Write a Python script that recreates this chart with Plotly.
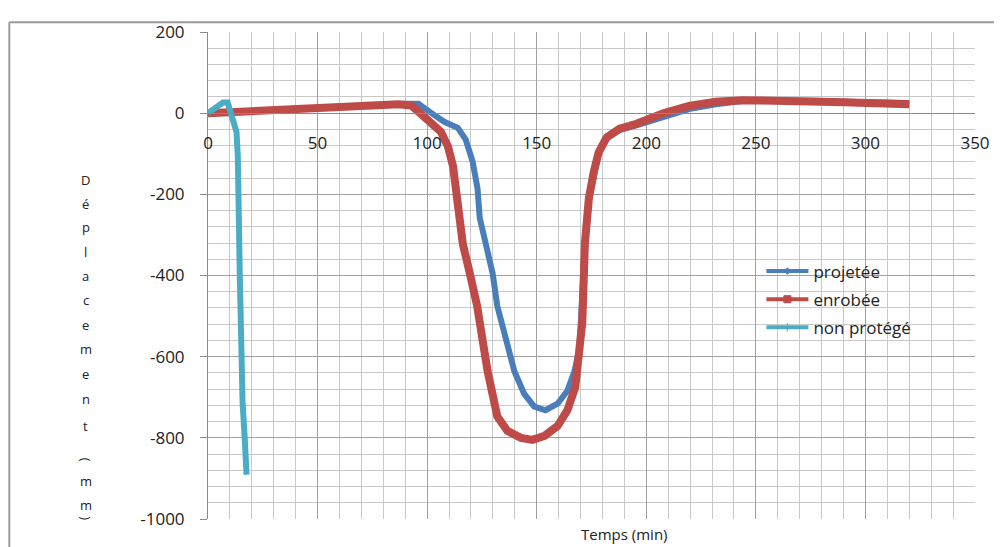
import plotly.graph_objects as go

# values
proj_x = [0, 10, 20, 30, 40, 50, 60, 70, 80, 90, 96, 102, 108, 114, 117.6, 120.8, 123, 124, 126.7, 129.9, 132,
          135.7, 139.8, 144.3, 148.9, 154, 159.5, 164, 167.2, 169.5, 170.6, 172, 173.8, 176, 178.3, 181.9, 187.8,
          195.5, 201.4, 207.7, 219.5, 231.7, 243.9, 255, 265, 280, 290, 300, 310, 320]
proj_y = [0, 3, 6, 9, 12, 14, 17, 19, 21, 23, 23, 0, -22, -36, -65, -120, -186, -258, -323, -395, -475,
          -554, -636, -692, -723, -732, -716, -684, -636, -580, -450, -320, -215, -150, -100, -62, -42,
          -30, -20, -10, 10, 22, 30, 32, 32, 30, 28, 27, 26, 25]

enr_x = [0, 10, 20, 30, 40, 50, 60, 70, 80, 86.9, 92.8, 97.3, 101.8, 106.3, 109.5, 111.8, 113, 114.9, 116.3,
         119.5, 120.8, 122.8, 127.6, 132, 136.6, 142.8, 148, 153.6, 159.5, 164, 167.6, 169.4, 170.8, 172, 173.8,
         176, 178.3, 181.9, 187.8, 195.5, 201.4, 207.7, 219.5, 231.7, 243.9, 255, 265, 280, 290, 300, 310, 320]
enr_y = [0, 3, 6, 9, 12, 14, 17, 19, 21, 22, 19, -5, -24, -46, -82, -130, -186, -265, -323,
         -395, -426, -475, -636, -747, -783, -800, -805, -795, -771, -732, -675, -595, -515, -320, -210,
         -145, -96, -60, -38, -26, -14, 0, 18, 28, 32, 32, 31, 28, 27, 25, 23, 22]

nonp_x = [0, 3.2, 6.8, 9, 11.3, 13, 13.6, 13.6, 14, 14.5, 15, 15.8, 16.7, 17.6]
nonp_y = [0, 14, 26, 26, -24, -46, -106, -186, -234, -400, -595, -716, -795, -891]

x_ticks = [0, 50, 100, 150, 200, 250, 300, 350]
y_ticks = [-1000, -800, -600, -400, -200, 0, 200]
y_ticktext = ["-1000", "-800", "-600", "-400", "-200", "0", "200"]

blue = "#4a7ebb"
red = "#be4b48"
cyan = "#4bacc6"
font = "Open Sans"

# the page adds an 8px body margin, so the figure is drawn 8px smaller
# and every pixel position from the reference is shifted by 8
OFF = 8
L, T, PW, PH = 208 - OFF, 20 - OFF, 772, 499


def px_x(px):
    return (px - OFF - L) / PW


def px_y(py):
    return (T + PH - (py - OFF)) / PH


fig = go.Figure()

fig.add_trace(go.Scatter(x=proj_x, y=proj_y, mode="lines", line={"color": blue, "width": 6}, showlegend=False))
fig.add_trace(go.Scatter(x=enr_x, y=enr_y, mode="lines", line={"color": red, "width": 8}, showlegend=False))
fig.add_trace(go.Scatter(x=nonp_x, y=nonp_y, mode="lines", line={"color": cyan, "width": 6}, showlegend=False))

# legend-only entries, thinner like the reference
legend_items = [("projetée", blue, "diamond", 5), ("enrobée", red, "square", 7), ("non protégé", cyan, "line-ns", 6)]
for i, (name, color, symbol, size) in enumerate(legend_items):
    fig.add_trace(
        go.Scatter(
            x=[None], y=[None], mode="lines+markers", name=name, legendgroup=str(i),
            line={"color": color, "width": 4},
            marker={"symbol": symbol, "size": size, "color": color, "line": {"color": color, "width": 1}},
        )
    )

# y-axis title: one letter per line, as in the reference
letters = ["D", "é", "p", "l", "a", "c", "e", "m", "e", "n", "t", "(", "m", "m", ")"]
letter_px = [172, 196, 220, 245, 270, 295, 320, 345, 370, 396, 424, 458, 480, 505, 518]
for ch, py in zip(letters, letter_px):
    fig.add_annotation(
        x=px_x(85), y=px_y(py), xref="paper", yref="paper", text=ch, showarrow=False,
        xanchor="center", yanchor="middle", borderpad=0,
        font={"family": font, "size": 13, "color": "#222"},
        textangle=90 if ch in "()" else 0,
    )

fig.add_annotation(
    x=px_x(627), y=px_y(546), xref="paper", yref="paper", text="Temps (min)", showarrow=False,
    xanchor="center", yanchor="bottom", borderpad=0, font={"family": font, "size": 15, "color": "#222"},
)

# outer frame (top and left edges visible)
fig.add_shape(type="line", xref="paper", yref="paper", x0=px_x(8), x1=1.1, y0=px_y(10), y1=px_y(10),
              line={"color": "#9a9a9a", "width": 2})
fig.add_shape(type="line", xref="paper", yref="paper", x0=px_x(8), x1=px_x(8), y0=px_y(10), y1=-0.1,
              line={"color": "#9a9a9a", "width": 2})

fig.update_layout(
    width=1002 - OFF,
    height=547 - OFF,
    margin={"l": L, "r": 1002 - OFF - L - PW, "t": T, "b": 547 - OFF - T - PH},
    paper_bgcolor="white",
    plot_bgcolor="white",
    font={"family": font, "size": 17, "color": "#222"},
    showlegend=True,
    legend={
        "x": px_x(765), "y": px_y(247), "xanchor": "left", "yanchor": "top",
        "bgcolor": "rgba(0,0,0,0)", "font": {"family": font, "size": 17, "color": "#222"},
        "tracegroupgap": 3, "itemwidth": 42,
    },
    xaxis={
        "range": [0, 350], "tickvals": x_ticks, "showgrid": True, "gridcolor": "#a0a0a0", "gridwidth": 1,
        "minor": {"dtick": 10, "tick0": 0, "showgrid": True, "gridcolor": "#c8c8c8", "gridwidth": 1},
        "anchor": "free", "position": 1000 / 1200, "showline": True, "linecolor": "#8a8a8a", "linewidth": 1,
        "ticks": "", "ticklabelstandoff": 14, "zeroline": False, "tickfont": {"size": 17},
        "ticklabeloverflow": "allow",
    },
    yaxis={
        "range": [-1000, 200], "tickvals": y_ticks, "ticktext": y_ticktext, "showgrid": True,
        "gridcolor": "#a0a0a0", "gridwidth": 1,
        "minor": {"dtick": 40, "tick0": -1000, "showgrid": True, "gridcolor": "#c8c8c8", "gridwidth": 1},
        "showline": True, "linecolor": "#8a8a8a", "linewidth": 1, "ticks": "outside", "ticklen": 7,
        "tickcolor": "#8a8a8a", "ticklabelstandoff": 12, "zeroline": False, "tickfont": {"size": 17},
        "ticklabeloverflow": "allow",
    },
)

fig.write_html("out.html")
